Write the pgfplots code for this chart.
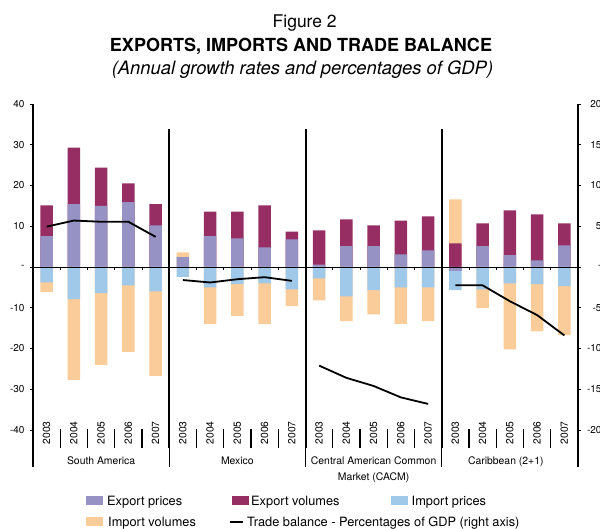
\documentclass[border=0pt]{standalone}
\usepackage{pgfplots}
\pgfplotsset{compat=1.18}
\usepackage{fontspec}
\setmainfont{TeX Gyre Heros}
\definecolor{expprice}{HTML}{9692C4}
\definecolor{expvol}{HTML}{972E63}
\definecolor{impprice}{HTML}{A0C8E8}
\definecolor{impvol}{HTML}{FACC9A}
\pgfplotsset{
  mybar/.style={ybar, bar width=12.5pt, bar shift=0pt, draw=none, fill=#1, forget plot},
  ticklab/.style={font=\fontsize{10}{12}\selectfont},
}
\begin{document}
\begin{tikzpicture}
% ---------------- main axis (left scale, bars) ----------------
\begin{axis}[
  at={(0,0)}, anchor=south west,
  width=545pt, height=326pt, scale only axis,
  clip=false,
  xmin=-0.5, xmax=19.5, ymin=-40, ymax=40,
  axis x line*=bottom, x axis line style={draw=none},
  axis y line*=left, y axis line style={draw=none},
  xtick={0,1,...,19},
  xticklabels={2003,2004,2005,2006,2007,2003,2004,2005,2006,2007,2003,2004,2005,2006,2007,2003,2004,2005,2006,2007},
  xtick style={draw=none},
  xticklabel style={yshift=0pt, rotate=90, anchor=center, font=\fontsize{10.3}{12}\selectfont},
  ytick={-40,-30,...,40},
  yticklabels={-40,-30,-20,-10,-,10,20,30,40},
  yticklabel style={ticklab, xshift=-2pt},
  tick align=outside, major tick length=3pt,
  ytick style={black, line width=0.8pt},
]
% positive import volumes (stacked above export volumes)
\addplot[mybar=impvol] coordinates {(5,3.6) (15,16.6)};
% export prices + export volumes (cumulative top)
\addplot[mybar=expvol] coordinates {
 (0,15.1) (1,29.3) (2,24.4) (3,20.5) (4,15.4)
 (6,13.6) (7,13.6) (8,15.1) (9,8.7)
 (10,9.0) (11,11.7) (12,10.2) (13,11.4) (14,12.4)
 (15,5.8) (16,10.7) (17,13.9) (18,12.9) (19,10.7)};
% export prices
\addplot[mybar=expprice] coordinates {
 (0,7.6) (1,15.4) (2,15.0) (3,15.9) (4,10.2)
 (5,2.4) (6,7.6) (7,7.0) (8,4.8) (9,6.8)
 (10,0.6) (11,5.1) (12,5.1) (13,3.1) (14,4.1)
 (16,5.1) (17,2.9) (18,1.6) (19,5.3)};
% import prices + import volumes (cumulative bottom)
\addplot[mybar=impvol] coordinates {
 (0,-6.1) (1,-27.7) (2,-24.0) (3,-20.8) (4,-26.7)
 (6,-14.0) (7,-12.0) (8,-14.0) (9,-9.6)
 (10,-8.2) (11,-13.3) (12,-11.6) (13,-14.0) (14,-13.3)
 (16,-10.1) (17,-20.2) (18,-15.8) (19,-16.7)};
% import prices
\addplot[mybar=impprice] coordinates {
 (0,-3.8) (1,-7.9) (2,-6.4) (3,-4.5) (4,-6.0)
 (5,-2.4) (6,-5.0) (7,-4.2) (8,-4.0) (9,-5.5)
 (10,-2.8) (11,-7.2) (12,-5.7) (13,-5.0) (14,-5.0)
 (15,-5.7) (16,-5.5) (17,-4.0) (18,-4.2) (19,-4.7)};
% negative export prices
\addplot[mybar=expprice] coordinates {(15,-1.0)};
% zero line and its ticks
\draw[black, line width=0.9pt] (axis cs:-0.5,0) -- (axis cs:19.5,0);
\pgfplotsinvokeforeach{0.5,1.5,2.5,3.5,5.5,6.5,7.5,8.5,10.5,11.5,12.5,13.5,15.5,16.5,17.5,18.5}{
  \draw[black, line width=0.8pt] (axis cs:#1,0) -- ++(0pt,-3pt);
  \draw[black, line width=1.2pt] (axis cs:#1,-40) ++(0pt,1pt) -- ++(0pt,-19pt);
}
% group separators
\pgfplotsinvokeforeach{4.5,9.5,14.5}{
  \draw[black, line width=2pt] (axis cs:#1,33.75) -- (axis cs:#1,-40) -- ++(0pt,-18pt);
  \draw[black, line width=0.8pt] (axis cs:#1,-40) ++(0pt,-18pt) -- ++(0pt,-19pt);
}
% left and right axis lines
\draw[black, line width=1.2pt] (rel axis cs:0,1) -- (rel axis cs:0,0) -- ++(0pt,-37pt);
\draw[black, line width=1.2pt] (rel axis cs:1,1) -- (rel axis cs:1,0) -- ++(0pt,-37pt);
% group labels
\begin{scope}[every node/.style={font=\fontsize{10.4}{15.5}\selectfont, align=center, anchor=north, inner sep=0pt}]
\node at (axis cs:2,-40) [yshift=-27pt] {South America};
\node at (axis cs:7,-40) [yshift=-27pt] {Mexico};
\node at (axis cs:12,-40) [yshift=-27pt] {Central American Common\\Market (CACM)};
\node at (axis cs:16.85,-40) [yshift=-27pt] {Caribbean (2+1)};
\end{scope}
\end{axis}
% ---------------- secondary axis (right scale, trade balance) ----------------
\begin{axis}[
  at={(0,0)}, anchor=south west,
  width=545pt, height=326pt, scale only axis,
  clip=false,
  xmin=-0.5, xmax=19.5, ymin=-20, ymax=20,
  axis x line=none,
  axis y line*=right, y axis line style={draw=none},
  ytick={-20,-15,...,20},
  yticklabels={-20,-15,-10,-5,-,5,10,15,20},
  yticklabel style={ticklab, anchor=east, xshift=24pt},
  tick align=outside, major tick length=3pt,
  ytick style={black, line width=0.8pt},
]
\addplot[black, line width=1.8pt] coordinates {(0,4.95) (1,5.7) (2,5.55) (3,5.55) (4,3.7)};
\addplot[black, line width=1.8pt] coordinates {(5,-1.6) (6,-1.9) (7,-1.5) (8,-1.25) (9,-1.7)};
\addplot[black, line width=1.8pt] coordinates {(10,-12.1) (11,-13.6) (12,-14.6) (13,-16.0) (14,-16.8)};
\addplot[black, line width=1.8pt] coordinates {(15,-2.25) (16,-2.25) (17,-4.2) (18,-5.9) (19,-8.4)};
\end{axis}
% ---------------- legend ----------------
\begin{scope}[every node/.style={font=\fontsize{12.8}{14}\selectfont, anchor=base west, inner sep=0pt}]
\fill[expprice] (53pt,-75.2pt) rectangle (70pt,-66.2pt);
\node at (74pt,-75.3pt) {Export prices};
\fill[expvol] (199pt,-75.2pt) rectangle (216pt,-66.2pt);
\node at (218pt,-75.3pt) {Export volumes};
\fill[impprice] (358pt,-75.2pt) rectangle (375pt,-66.2pt);
\node at (378.5pt,-75.3pt) {Import prices};
\fill[impvol] (53pt,-96.2pt) rectangle (70pt,-87.2pt);
\node at (75pt,-96.3pt) {Import volumes};
\draw[black, line width=1.8pt] (197pt,-91.7pt) -- (210pt,-91.7pt);
\node at (214pt,-96.3pt) {Trade balance - Percentages of GDP (right axis)};
\end{scope}
% ---------------- titles ----------------
\node[anchor=base, font=\fontsize{17.5}{20}\selectfont] at (271.7pt,402.5pt) {Figure 2};
\node[anchor=base, font=\fontsize{18}{20}\selectfont\bfseries] at (268pt,378.5pt) {EXPORTS, IMPORTS AND TRADE BALANCE};
\node[anchor=base, font=\fontsize{18.4}{20}\selectfont\itshape] at (269.5pt,355pt) {(Annual growth rates and percentages of GDP)};
\pgfresetboundingbox
\useasboundingbox (-33pt,-99pt) rectangle (567pt,430pt);
\end{tikzpicture}
\end{document}
